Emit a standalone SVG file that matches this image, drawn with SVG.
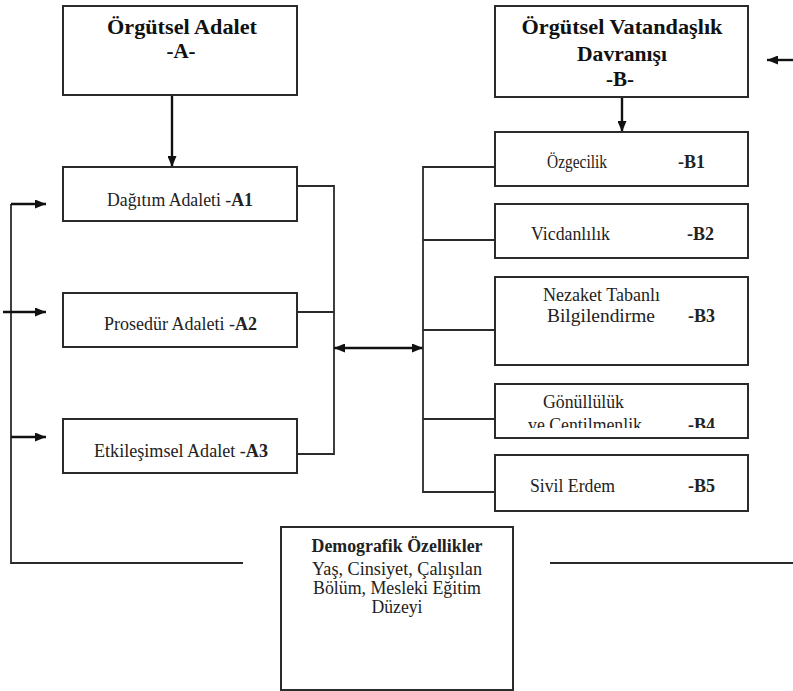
<svg xmlns="http://www.w3.org/2000/svg" width="793" height="691" viewBox="0 0 793 691">
<style>
  .box { fill: #ffffff; stroke: #2b2b2b; stroke-width: 2; }
  .ln { fill: none; stroke: #2b2b2b; stroke-width: 1.8; }
  .arr { fill: none; stroke: #111; stroke-width: 2.4; }
  text { font-family: "Liberation Serif", "DejaVu Serif", "Times New Roman", serif; }
  .t { font-size: 18px; fill: #222; }
  .b { font-weight: bold; }
  .title { font-size: 21px; font-weight: bold; fill: #111; }
</style>
<defs>
  <marker id="ah" markerWidth="11" markerHeight="9" refX="11" refY="4.5" orient="auto-start-reverse" markerUnits="userSpaceOnUse">
    <path d="M0,0 L11,4.5 L0,9 z" fill="#111"/>
  </marker>
  <clipPath id="clipB4"><rect x="495" y="384" width="253" height="44"/></clipPath>
</defs>
<rect width="793" height="691" fill="#ffffff"/>

<g id="connectors">
  <line class="arr" x1="172" y1="95" x2="172" y2="167" marker-end="url(#ah)"/>
  <line class="arr" x1="622" y1="97" x2="622" y2="132" marker-end="url(#ah)"/>
  <line class="arr" x1="793" y1="60" x2="767" y2="60" marker-end="url(#ah)"/>
  <polyline class="ln" points="243,563 11,563 11,204"/>
  <line class="arr" x1="11" y1="204" x2="46" y2="204" marker-end="url(#ah)"/>
  <line class="arr" x1="3" y1="312" x2="46" y2="312" marker-end="url(#ah)"/>
  <line class="arr" x1="11" y1="437" x2="46" y2="437" marker-end="url(#ah)"/>
  <line class="ln" x1="550" y1="563" x2="793" y2="563"/>
  <polyline class="ln" points="297,186 334,186 334,454 297,454"/>
  <line class="ln" x1="297" y1="312" x2="334" y2="312"/>
  <line class="arr" x1="334" y1="348" x2="423" y2="348" marker-start="url(#ah)" marker-end="url(#ah)"/>
  <polyline class="ln" points="495,167 423,167 423,492 495,492"/>
  <line class="ln" x1="423" y1="240" x2="495" y2="240"/>
  <line class="ln" x1="423" y1="330" x2="495" y2="330"/>
  <line class="ln" x1="423" y1="419" x2="495" y2="419"/>
</g>

<g id="nodeA">
  <rect class="box" x="63" y="6" width="234" height="89"/>
  <text class="title" x="182" y="34" text-anchor="middle" textLength="150" lengthAdjust="spacingAndGlyphs">Örgütsel Adalet</text>
  <text class="title" x="181" y="58" text-anchor="middle">-A-</text>
</g>
<g id="nodeA1">
  <rect class="box" x="63" y="167" width="234" height="54"/>
  <text class="t" x="107" y="206" textLength="146" lengthAdjust="spacingAndGlyphs">Dağıtım Adaleti -<tspan class="b">A1</tspan></text>
</g>
<g id="nodeA2">
  <rect class="box" x="63" y="293" width="234" height="54"/>
  <text class="t" x="104" y="330" textLength="153" lengthAdjust="spacingAndGlyphs">Prosedür Adaleti -<tspan class="b">A2</tspan></text>
</g>
<g id="nodeA3">
  <rect class="box" x="63" y="419" width="234" height="54"/>
  <text class="t" x="94" y="457" textLength="174" lengthAdjust="spacingAndGlyphs">Etkileşimsel Adalet -<tspan class="b">A3</tspan></text>
</g>

<g id="nodeB">
  <rect class="box" x="495" y="6" width="253" height="91"/>
  <text class="title" x="622" y="34" text-anchor="middle" textLength="201" lengthAdjust="spacingAndGlyphs">Örgütsel Vatandaşlık</text>
  <text class="title" x="622" y="61" text-anchor="middle" textLength="90" lengthAdjust="spacingAndGlyphs">Davranışı</text>
  <text class="title" x="620" y="86" text-anchor="middle">-B-</text>
</g>
<g id="nodeB1">
  <rect class="box" x="495" y="132" width="253" height="54"/>
  <text class="t" x="547" y="168" textLength="60" lengthAdjust="spacingAndGlyphs">Özgecilik</text>
  <text class="t b" x="678" y="168">-B1</text>
</g>
<g id="nodeB2">
  <rect class="box" x="495" y="204" width="253" height="54"/>
  <text class="t" x="531" y="240" textLength="79" lengthAdjust="spacingAndGlyphs">Vicdanlılık</text>
  <text class="t b" x="687" y="240">-B2</text>
</g>
<g id="nodeB3">
  <rect class="box" x="495" y="277" width="253" height="88"/>
  <text class="t" x="543" y="301" textLength="117" lengthAdjust="spacingAndGlyphs">Nezaket Tabanlı</text>
  <text class="t" x="547" y="322" textLength="108" lengthAdjust="spacingAndGlyphs">Bilgilendirme</text>
  <text class="t b" x="688" y="322">-B3</text>
</g>
<g id="nodeB4">
  <rect class="box" x="495" y="384" width="253" height="54"/>
  <text class="t" x="543" y="408" textLength="81" lengthAdjust="spacingAndGlyphs">Gönüllülük</text>
  <g clip-path="url(#clipB4)">
    <text class="t" x="528" y="431" textLength="114" lengthAdjust="spacingAndGlyphs">ve Centilmenlik</text>
    <text class="t b" x="688" y="431">-B4</text>
  </g>
</g>
<g id="nodeB5">
  <rect class="box" x="495" y="455" width="253" height="56"/>
  <text class="t" x="530" y="492" textLength="85" lengthAdjust="spacingAndGlyphs">Sivil Erdem</text>
  <text class="t b" x="688" y="492">-B5</text>
</g>

<g id="nodeD">
  <rect class="box" x="281" y="527" width="232" height="163"/>
  <text class="t b" x="397" y="552" text-anchor="middle" textLength="171" lengthAdjust="spacingAndGlyphs">Demografik Özellikler</text>
  <text class="t" x="397" y="575" text-anchor="middle" textLength="170" lengthAdjust="spacingAndGlyphs">Yaş, Cinsiyet, Çalışılan</text>
  <text class="t" x="397" y="594" text-anchor="middle" textLength="168" lengthAdjust="spacingAndGlyphs">Bölüm, Mesleki Eğitim</text>
  <text class="t" x="397" y="613" text-anchor="middle" textLength="51" lengthAdjust="spacingAndGlyphs">Düzeyi</text>
</g>
</svg>
